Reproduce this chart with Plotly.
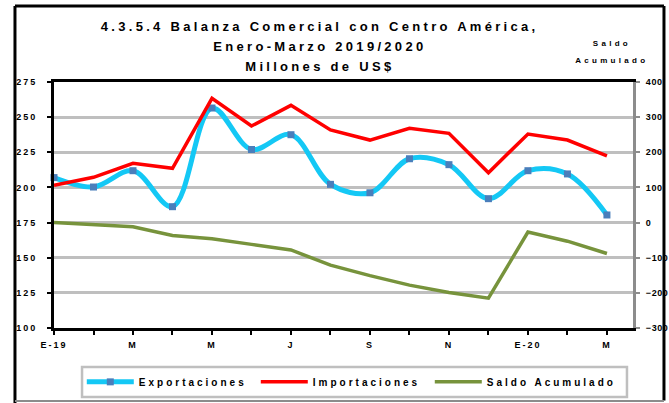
import plotly.graph_objects as go

# ---- data ----
months = list(range(15))  # Jan-2019 .. Mar-2020
tick_positions = [0, 2, 4, 6, 8, 10, 12, 14]
tick_labels = ["E-19", "M", "M", "J", "S", "N", "E-20", "M"]

exportaciones = [207, 200.3, 211.9, 186.3, 256.5, 227, 237.5, 202.2, 196.2, 220.4, 216.2, 192, 211.9, 209.6, 180.4]
importaciones = [201.6, 207.2, 217.2, 213.6, 263.4, 243.7, 258.4, 240.9, 233.7, 242.1, 238.5, 210.5, 238, 233.7, 222.4]
saldo_acumulado = [0, -7, -12, -37, -46, -62, -78, -121, -151, -178, -199, -215, -27, -53, -88]

left_ticks = [100, 125, 150, 175, 200, 225, 250, 275]
right_ticks = [-300, -200, -100, 0, 100, 200, 300, 400]

FONT = "Liberation Sans, Arial, sans-serif"

fig = go.Figure()
fig.add_trace(go.Scatter(
    x=months, y=exportaciones, name="Exportaciones", mode="lines+markers",
    line=dict(color="#14C8F5", width=5, shape="spline", smoothing=1.0),
    marker=dict(symbol="square", size=7, color="#4A7EBB"),
    cliponaxis=False,
))
fig.add_trace(go.Scatter(
    x=months, y=importaciones, name="Importaciones", mode="lines",
    line=dict(color="#FF0000", width=3.5),
    cliponaxis=False,
))
fig.add_trace(go.Scatter(
    x=months, y=saldo_acumulado, name="Saldo Acumulado", mode="lines",
    line=dict(color="#77933C", width=3.5), yaxis="y2",
    cliponaxis=False,
))

tickfont = dict(family=FONT, size=9, color="black", weight="bold")

fig.update_layout(
    width=669, height=403,
    margin=dict(l=54, r=36, t=82, b=75, autoexpand=False),
    paper_bgcolor="white", plot_bgcolor="white",
    showlegend=True,
    font=dict(family=FONT, color="black"),
    xaxis=dict(
        range=[0, 14.66], tickmode="array", tickvals=tick_positions, ticktext=tick_labels,
        showgrid=False, zeroline=False, automargin=False,
        showline=True, linecolor="black", linewidth=3, mirror=True,
        ticks="outside", ticklen=4, tickwidth=2, tickcolor="black",
        minor=dict(tickmode="linear", tick0=0, dtick=1, ticks="outside", ticklen=4, tickwidth=2, tickcolor="black"),
        tickfont=tickfont, ticklabelstandoff=2,
    ),
    yaxis=dict(
        range=[100, 275], tickmode="array", tickvals=left_ticks,
        showgrid=True, gridcolor="#BFBFBF", gridwidth=2.5, zeroline=False, automargin=False,
        showline=True, linecolor="black", linewidth=3,
        ticks="outside", ticklen=4, tickwidth=2, tickcolor="black",
        tickfont=tickfont, ticklabelstandoff=8,
    ),
    yaxis2=dict(
        range=[-300, 400], tickmode="array", tickvals=right_ticks,
        overlaying="y", side="right", showgrid=False, zeroline=False, automargin=False,
        showline=True, linecolor="#8C8C8C", linewidth=3,
        ticks="outside", ticklen=4, tickwidth=2, tickcolor="#8C8C8C",
        tickfont=tickfont, ticklabelstandoff=4,
    ),
    legend=dict(
        orientation="h", x=0.048, y=-0.16, xanchor="left", yanchor="top",
        borderwidth=0, bgcolor="rgba(0,0,0,0)",
        font=dict(family=FONT, size=10, color="black", weight="bold"),
        itemwidth=47, entrywidth=112, entrywidthmode="pixels",
        tracegroupgap=0,
    ),
    annotations=[
        dict(text="4.3.5.4 Balanza Comercial con Centro América,", x=0.4594, y=1.2236),
        dict(text="Enero-Marzo 2019/2020", x=0.4594, y=1.1423),
        dict(text="Millones de US$", x=0.4594, y=1.061),
        dict(text="Saldo", x=0.9637, y=1.1545, font=dict(family=FONT, size=8, color="black", weight="bold")),
        dict(text="Acumulado", x=0.9637, y=1.0854, font=dict(family=FONT, size=8, color="black", weight="bold")),
    ],
    shapes=[
        # outer frame
        dict(type="line", xref="paper", yref="paper", x0=-0.0674, x1=-0.0674, y0=1.309, y1=-0.31, line=dict(color="black", width=3), layer="below"),
        dict(type="line", xref="paper", yref="paper", x0=-0.0674, x1=1.0535, y0=1.309, y1=1.309, line=dict(color="black", width=3), layer="below"),
        dict(type="line", xref="paper", yref="paper", x0=1.0535, x1=1.0535, y0=1.309, y1=-0.295, line=dict(color="black", width=3), layer="below"),
        dict(type="line", xref="paper", yref="paper", x0=-0.0674, x1=1.0535, y0=-0.297, y1=-0.297, line=dict(color="#8C8C8C", width=2), layer="below"),
        # legend box
        dict(type="rect", xref="paper", yref="paper", x0=0.0484, x1=0.9896, y0=-0.1585, y1=-0.2805,
             line=dict(color="#BFBFBF", width=2.5), fillcolor="white", layer="below"),
    ],
)
for a in fig.layout.annotations[:3]:
    a.font = dict(family=FONT, size=13, color="black", weight="bold")
fig.update_annotations(xref="paper", yref="paper", showarrow=False, xanchor="center", yanchor="middle")

post = """
document.body.style.margin='0';
document.body.style.padding='0';
var st=document.createElement('style');
st.textContent='html,body{margin:0;padding:0;} .main-svg .annotation-text{letter-spacing:3.3px;} .main-svg .legendtext{letter-spacing:3px;} .main-svg .xtick text, .main-svg .ytick text{letter-spacing:2px;} .main-svg .y2tick text{letter-spacing:0.6px;}';
document.head.appendChild(st);
document.querySelectorAll('.legend .scrollbox, .legend').forEach(function(e){ e.removeAttribute('clip-path'); });
"""
fig.write_html("out.html", post_script=post, config={"displayModeBar": False})
